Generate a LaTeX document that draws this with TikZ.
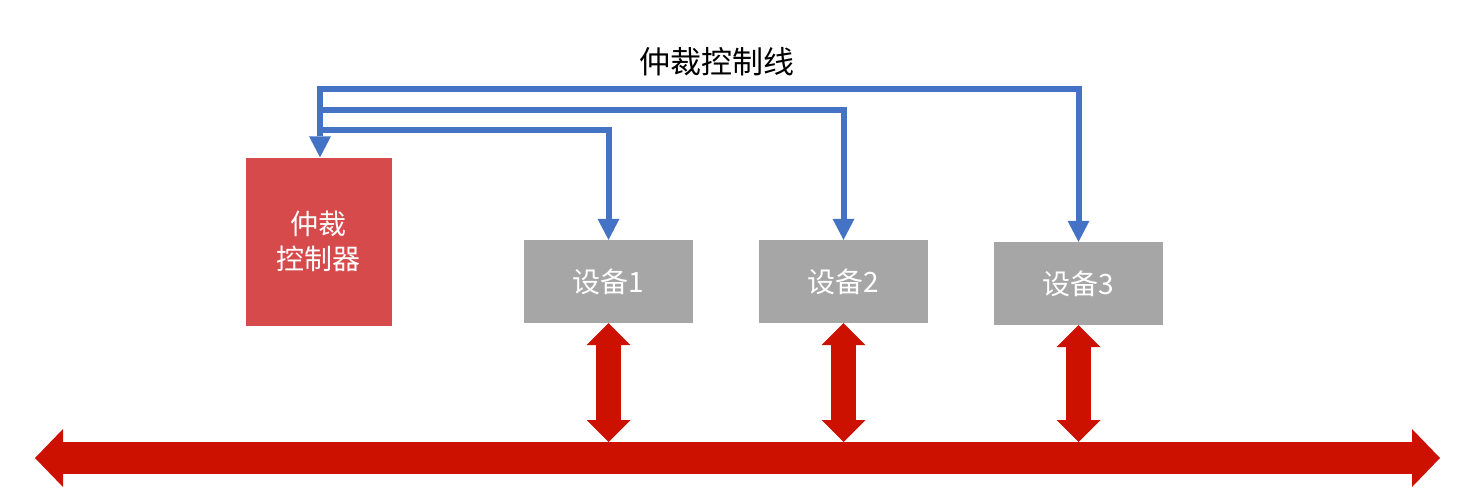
\documentclass[tikz,border=0pt]{standalone}
\usepackage{fontspec}
\newfontfamily\cjk{Noto Sans CJK SC}
\usepackage{xcolor}
\usepackage{tikz}
\usetikzlibrary{positioning, calc, arrows.meta}
\definecolor{arbred}{RGB}{214,74,75}
\definecolor{devgray}{RGB}{166,166,166}
\definecolor{ctrlblue}{RGB}{68,114,196}
\definecolor{busred}{RGB}{204,17,0}

\begin{document}
\begin{tikzpicture}[x=1pt, y=-1pt]
			\useasboundingbox (0,0) rectangle (1482,493);
			\tikzstyle{dev}=[fill=devgray, minimum width=169pt, minimum height=83pt, text=white, font=\cjk\fontsize{28}{32}\selectfont]
			\tikzstyle{ctrl}=[draw=ctrlblue, line width=6pt, line join=miter]
			\tikzstyle{link}=[draw=busred, line width=25pt, {Triangle[length=22pt,width=44pt,line width=0pt]}-{Triangle[length=22pt,width=44pt,line width=0pt]}]
			
			\node[fill=arbred, minimum width=146pt, minimum height=168pt, text=white, align=center, font=\cjk\fontsize{28}{35}\selectfont](arb) at (318.5,241.5) {仲裁\\控制器};
			\node[dev](dev1) at (608.5,281.5) {设备1};
			\node[dev](dev2) at (843.5,281.5) {设备2};
			\node[dev](dev3) at (1078.5,283.5) {设备3};
			\node[font=\cjk\fontsize{31}{36}\selectfont](lbl) at (717,62) {仲裁控制线};
			
			%% control lines
			\coordinate (c1) at (320,89);
			\coordinate (c2) at (320,110);
			\coordinate (c3) at (320,130);
			\draw[ctrl, {Triangle[length=21pt,width=22pt,line width=0pt]}-{Triangle[length=21pt,width=22pt,line width=0pt]}] (arb.north -| c1) -- (c1) -| (dev3.north);
			\draw[ctrl, -{Triangle[length=21pt,width=22pt,line width=0pt]}] (c2) -| (dev2.north);
			\draw[ctrl, -{Triangle[length=21pt,width=22pt,line width=0pt]}] (c3) -| (dev1.north);
			
			%% bus
			\coordinate (busL) at (35,458);
			\coordinate (busR) at (1440,458);
			\coordinate (busT) at (0,442);
			\draw[draw=busred, line width=32pt, {Triangle[length=28pt,width=58pt,line width=0pt]}-{Triangle[length=28pt,width=58pt,line width=0pt]}] (busL) -- (busR);
			\foreach \d in {dev1, dev2, dev3} \draw[link] (\d.south) -- (\d.south |- busT);
			
			\end{tikzpicture}
\end{document}
